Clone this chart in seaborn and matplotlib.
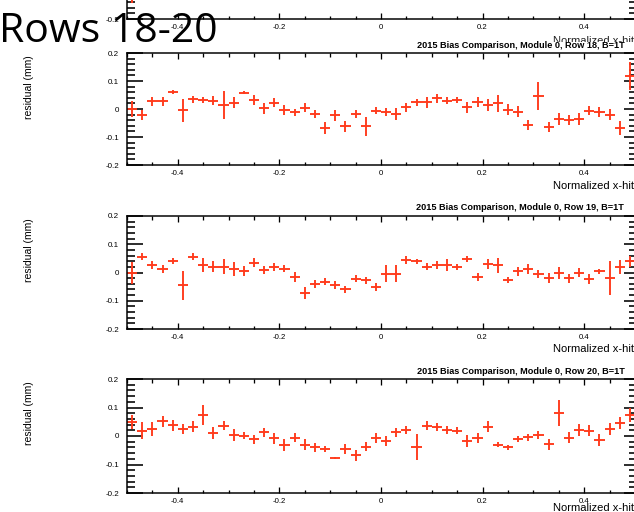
import matplotlib
matplotlib.use("Agg")
import matplotlib.pyplot as plt
import seaborn as sns
import pandas as pd
from matplotlib.ticker import MultipleLocator
from matplotlib.transforms import Bbox, TransformedBbox

# Normalized x-hit bin centres (bin width 0.02)
bin_centers = [-0.49, -0.47, -0.45, -0.43, -0.41, -0.39, -0.37, -0.35, -0.33, -0.31,
               -0.29, -0.27, -0.25, -0.23, -0.21, -0.19, -0.17, -0.15, -0.13, -0.11,
               -0.09, -0.07, -0.05, -0.03, -0.01, 0.01, 0.03, 0.05, 0.07, 0.09,
               0.11, 0.13, 0.15, 0.17, 0.19, 0.21, 0.23, 0.25, 0.27, 0.29,
               0.31, 0.33, 0.35, 0.37, 0.39, 0.41, 0.43, 0.45, 0.47, 0.49]
bin_half_width = 0.01

row18_res = [0.0, -0.02, 0.027, 0.027, 0.06, -0.005, 0.035, 0.033, 0.03, 0.015,
             0.023, 0.058, 0.033, 0.002, 0.023, -0.003, -0.012, 0.005, -0.018, -0.068,
             -0.023, -0.062, -0.018, -0.062, -0.006, -0.01, -0.018, 0.006, 0.024, 0.024,
             0.038, 0.03, 0.032, 0.006, 0.026, 0.014, 0.021, -0.002, -0.01, -0.057,
             0.045, -0.065, -0.036, -0.038, -0.036, -0.006, -0.01, -0.021, -0.069, 0.119]
row18_err = [0.03, 0.018, 0.015, 0.015, 0.007, 0.04, 0.012, 0.01, 0.015, 0.05,
             0.02, 0.006, 0.017, 0.02, 0.017, 0.018, 0.012, 0.015, 0.015, 0.02,
             0.02, 0.02, 0.015, 0.035, 0.013, 0.015, 0.02, 0.015, 0.013, 0.02,
             0.015, 0.013, 0.012, 0.02, 0.018, 0.02, 0.03, 0.02, 0.02, 0.018,
             0.05, 0.018, 0.02, 0.018, 0.022, 0.015, 0.018, 0.02, 0.025, 0.05]

row19_res = [-0.002, 0.056, 0.027, 0.012, 0.041, -0.046, 0.056, 0.027, 0.021, 0.021,
             0.013, 0.006, 0.035, 0.008, 0.019, 0.013, -0.016, -0.073, -0.04, -0.032,
             -0.044, -0.059, -0.022, -0.028, -0.052, -0.005, -0.005, 0.045, 0.039, 0.021,
             0.027, 0.027, 0.019, 0.048, -0.016, 0.031, 0.025, -0.026, 0.004, 0.012,
             -0.005, -0.018, -0.002, -0.021, 0.0, -0.024, 0.004, -0.02, 0.019, 0.039]
row19_err = [0.04, 0.012, 0.015, 0.015, 0.01, 0.05, 0.012, 0.025, 0.02, 0.027,
             0.025, 0.018, 0.015, 0.015, 0.015, 0.012, 0.018, 0.022, 0.015, 0.012,
             0.015, 0.012, 0.012, 0.012, 0.015, 0.03, 0.03, 0.015, 0.01, 0.012,
             0.015, 0.02, 0.01, 0.012, 0.015, 0.018, 0.025, 0.01, 0.015, 0.018,
             0.015, 0.018, 0.02, 0.015, 0.015, 0.018, 0.01, 0.06, 0.025, 0.02]

row20_res = [0.049, 0.019, 0.025, 0.051, 0.037, 0.024, 0.033, 0.075, 0.01, 0.036,
             0.004, 0.001, -0.012, 0.013, -0.008, -0.032, -0.006, -0.03, -0.04, -0.046,
             -0.076, -0.046, -0.068, -0.037, -0.007, -0.017, 0.013, 0.021, -0.038, 0.036,
             0.031, 0.021, 0.018, -0.018, -0.006, 0.033, -0.03, -0.04, -0.011, -0.005,
             0.004, -0.029, 0.081, -0.006, 0.021, 0.019, -0.014, 0.025, 0.045, 0.075]
row20_err = [0.025, 0.03, 0.025, 0.018, 0.018, 0.018, 0.018, 0.035, 0.02, 0.015,
             0.02, 0.012, 0.015, 0.015, 0.02, 0.02, 0.015, 0.02, 0.015, 0.01,
             0.004, 0.018, 0.02, 0.015, 0.018, 0.018, 0.015, 0.015, 0.045, 0.015,
             0.015, 0.015, 0.012, 0.02, 0.018, 0.02, 0.01, 0.01, 0.01, 0.012,
             0.015, 0.02, 0.045, 0.02, 0.02, 0.02, 0.02, 0.022, 0.02, 0.025]

# previous row (only its first bin reaches into view)
row17_x = [-0.49]
row17_res = [-0.1]
row17_err = [0.045]

rows = ["18", "19", "20"]
title_fmt = "2015 Bias Comparison, Module 0, Row {}, B=1T"
x_title = "Normalized x-hit"
y_title = "residual (mm)"
slide_title = "Rows 18-20"

MARK = "#ff3b1c"
W, H = 634, 512

sns.set_theme(style="white")
plt.rcParams["font.family"] = ["Liberation Sans", "DejaVu Sans"]

fig = plt.figure(figsize=(W / 100, H / 100), dpi=100)
fig.patch.set_facecolor("white")

PT = 72 / 100  # points per pixel


def fx(x):
    return x / W


def fy(y):
    return 1 - y / H


def num_fmt(v, pos):
    return "0" if abs(v) < 1e-9 else f"{v:g}"


def add_panel(left, top, right, bottom, y_label_fmt=num_fmt):
    ax = fig.add_axes([fx(left), fy(bottom), (right - left) / W, (bottom - top) / H])
    ax.set_facecolor("white")
    ax.set_xlim(-0.5, 0.5)
    ax.set_ylim(-0.2, 0.2)
    ax.xaxis.set_major_locator(MultipleLocator(0.2))
    ax.xaxis.set_minor_locator(MultipleLocator(0.05))
    ax.yaxis.set_major_locator(MultipleLocator(0.1))
    ax.yaxis.set_minor_locator(MultipleLocator(0.02))
    ax.xaxis.set_major_formatter(plt.FuncFormatter(num_fmt))
    ax.yaxis.set_major_formatter(plt.FuncFormatter(y_label_fmt))
    for s in ax.spines.values():
        s.set_color("black")
        s.set_linewidth(1.5 * PT)
    ax.tick_params(axis="x", which="both", direction="in", top=True, bottom=True,
                   colors="black", width=1.3 * PT, labelsize=5.6, pad=5 * PT)
    ax.tick_params(axis="x", which="major", length=6 * PT)
    ax.tick_params(axis="x", which="minor", length=3.5 * PT)
    ax.tick_params(axis="y", which="both", direction="in", left=True, right=False,
                   colors="black", width=1.6 * PT, labelsize=5.8, pad=8 * PT)
    ax.tick_params(axis="y", which="major", length=16 * PT)
    ax.tick_params(axis="y", which="minor", length=8 * PT)
    sec = ax.secondary_yaxis("right")
    sec.yaxis.set_major_locator(MultipleLocator(0.1))
    sec.yaxis.set_minor_locator(MultipleLocator(0.02))
    sec.spines["right"].set_linewidth(1.5 * PT)
    sec.tick_params(which="both", direction="in", labelright=False, width=1.6 * PT, colors="black")
    sec.tick_params(which="major", length=11 * PT)
    sec.tick_params(which="minor", length=6 * PT)
    ax.set_xlabel("")
    ax.set_ylabel("")
    return ax


def draw_crosses(ax, x, y, err):
    df = pd.DataFrame({"x": x, "res": y, "err": err})
    ax.errorbar(df["x"], df["res"], yerr=df["err"], xerr=bin_half_width,
                fmt="none", ecolor=MARK, elinewidth=1.9 * PT, capsize=0, clip_on=True)


# partially visible previous panel at the top: only its lowest y label is in view
ax_top = add_panel(127, -95, 635, 19,
                   y_label_fmt=lambda v, p: num_fmt(v, p) if v < -0.15 else "")
draw_crosses(ax_top, row17_x, row17_res, row17_err)
t = fig.text(fx(634), fy(41), x_title, ha="right", va="center", fontsize=8, color="#222222")
t.set_clip_box(TransformedBbox(Bbox([[0, fy(42)], [1, 1]]), fig.transFigure))
t.set_clip_on(True)

panels = [(53, 165), (216, 329), (379, 493)]
title_pos = [(625, 46), (624, 207), (625, 371)]
xlabel_y = [186, 349, 508]
ylabel_top = [55, 218, 381]
data = [(row18_res, row18_err), (row19_res, row19_err), (row20_res, row20_err)]

for i, ((top, bottom), (res, err)) in enumerate(zip(panels, data)):
    ax = add_panel(127, top, 635, bottom)
    draw_crosses(ax, bin_centers, res, err)
    tx, ty = title_pos[i]
    fig.text(fx(tx), fy(ty), title_fmt.format(rows[i]), ha="right", va="center",
             fontsize=6.6, fontweight="bold", color="black")
    fig.text(fx(634), fy(xlabel_y[i]), x_title, ha="right", va="center",
             fontsize=8, color="black")
    fig.text(fx(29), fy(ylabel_top[i]), y_title, rotation=90, ha="center", va="top",
             fontsize=7.5, color="black")

fig.text(fx(-1), fy(42), slide_title, ha="left", va="baseline", fontsize=29.5,
         family=["Open Sans", "DejaVu Sans"], color="black", zorder=10)

fig.savefig("out.png", dpi=100, facecolor="white")
